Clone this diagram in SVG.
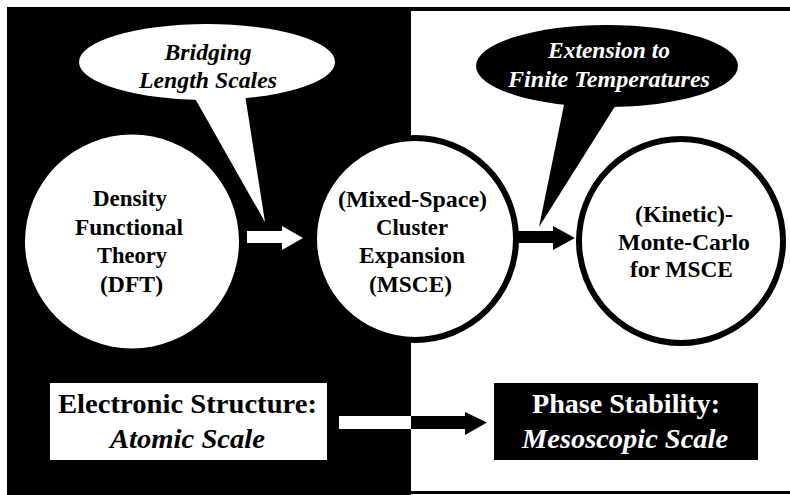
<svg xmlns="http://www.w3.org/2000/svg" width="790" height="495" viewBox="0 0 790 495">
<style>
text{font-family:'Liberation Serif','Times New Roman',serif;font-weight:700;text-anchor:middle}
.n{font-size:24px}
.b{font-size:28px}
.i{font-style:italic}
.w{fill:#fff}
.k{fill:#000}
</style>
<rect x="0" y="0" width="790" height="495" fill="#fff"/>
<g id="background">
<rect x="7" y="7" width="404" height="488" fill="#000"/>
<rect x="411" y="7" width="379" height="4" fill="#000"/>
<rect x="411" y="491" width="379" height="3" fill="#000"/>
</g>
<g id="bubble-bridging">
<polygon points="193,95 245,95 265,222" fill="#fff"/>
<ellipse cx="207" cy="62" rx="128" ry="38" fill="#fff"/>
<text class="n i k" x="208" y="60" textLength="87" lengthAdjust="spacingAndGlyphs">Bridging</text>
<text class="n i k" x="208" y="88" textLength="138" lengthAdjust="spacingAndGlyphs">Length Scales</text>
</g>
<g id="bubble-extension">
<polygon points="565,100 619,100 539,227" fill="#000"/>
<ellipse cx="607" cy="66" rx="131" ry="41" fill="#000"/>
<text class="n i w" x="609" y="58" textLength="122" lengthAdjust="spacingAndGlyphs">Extension to</text>
<text class="n i w" x="609" y="87" textLength="202" lengthAdjust="spacingAndGlyphs">Finite Temperatures</text>
</g>
<g id="node-dft">
<circle cx="132" cy="241.5" r="107" fill="#fff"/>
<text class="n k" x="130" y="206" textLength="74" lengthAdjust="spacingAndGlyphs">Density</text>
<text class="n k" x="129" y="235" textLength="108" lengthAdjust="spacingAndGlyphs">Functional</text>
<text class="n k" x="132" y="263" textLength="70" lengthAdjust="spacingAndGlyphs">Theory</text>
<text class="n k" x="131.5" y="292" textLength="63" lengthAdjust="spacingAndGlyphs">(DFT)</text>
</g>
<g id="node-msce">
<circle cx="415" cy="239" r="101" fill="#fff" stroke="#000" stroke-width="6"/>
<text class="n k" x="412.5" y="207" textLength="149" lengthAdjust="spacingAndGlyphs">(Mixed-Space)</text>
<text class="n k" x="412" y="235" textLength="72" lengthAdjust="spacingAndGlyphs">Cluster</text>
<text class="n k" x="412" y="263" textLength="106" lengthAdjust="spacingAndGlyphs">Expansion</text>
<text class="n k" x="410.5" y="292" textLength="83" lengthAdjust="spacingAndGlyphs">(MSCE)</text>
</g>
<g id="node-kmc">
<circle cx="681" cy="241" r="102" fill="#fff" stroke="#000" stroke-width="6"/>
<text class="n k" x="684" y="222" textLength="98" lengthAdjust="spacingAndGlyphs">(Kinetic)-</text>
<text class="n k" x="684" y="250" textLength="132" lengthAdjust="spacingAndGlyphs">Monte-Carlo</text>
<text class="n k" x="681.5" y="277" textLength="103" lengthAdjust="spacingAndGlyphs">for MSCE</text>
</g>
<g id="box-electronic">
<rect x="50" y="383" width="277" height="77" fill="#fff"/>
<text class="b k" x="187.5" y="413" textLength="259" lengthAdjust="spacingAndGlyphs">Electronic Structure:</text>
<text class="b i k" x="187.5" y="448" textLength="155" lengthAdjust="spacingAndGlyphs">Atomic Scale</text>
</g>
<g id="box-phase">
<rect x="494" y="383" width="264" height="77" fill="#000"/>
<text class="b w" x="626" y="413" textLength="188" lengthAdjust="spacingAndGlyphs">Phase Stability:</text>
<text class="b i w" x="625" y="448" textLength="206" lengthAdjust="spacingAndGlyphs">Mesoscopic Scale</text>
</g>
<g id="connectors">
<path d="M247,231 H282 V226 L303,238 L282,250 V243 H247 Z" fill="#fff"/>
<path d="M518,231 H553 V226 L575,238 L553,250 V243 H518 Z" fill="#000"/>
<rect x="339" y="416" width="72" height="13" fill="#fff"/>
<path d="M411,416 H465 V412 L487,422.5 L465,435 V429 H411 Z" fill="#000"/>
</g>
</svg>
